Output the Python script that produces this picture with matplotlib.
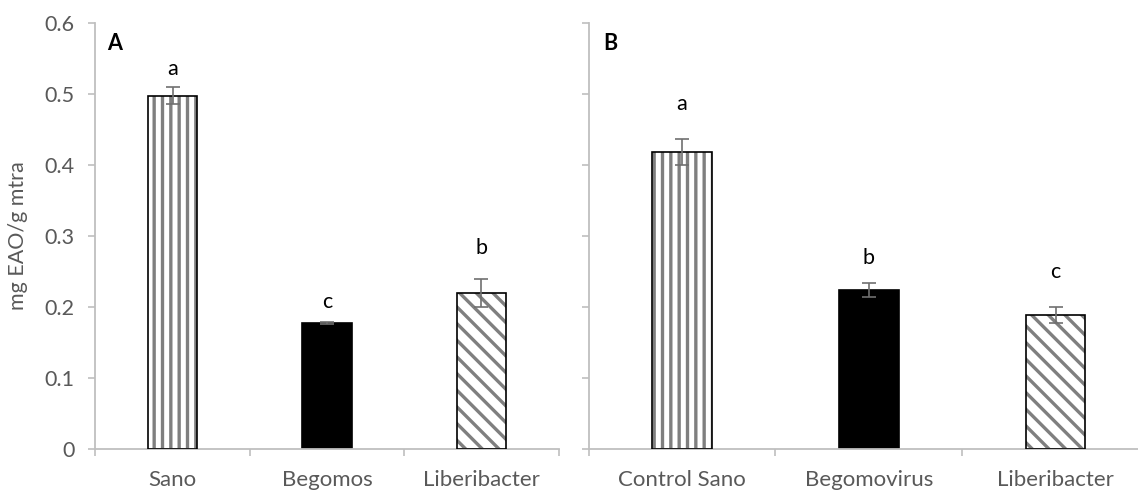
import matplotlib.pyplot as plt
import numpy as np

plt.rcParams['font.family'] = ['Lato', 'DejaVu Sans']
plt.rcParams['hatch.linewidth'] = 2.4

# Panel A data
cats_a = ['Sano', 'Begomos', 'Liberibacter']
vals_a = [0.497, 0.177, 0.219]
errs_a = [0.012, 0.002, 0.020]
letters_a = ['a', 'c', 'b']
letter_y_a = [0.535, 0.207, 0.283]

# Panel B data
cats_b = ['Control Sano', 'Begomovirus', 'Liberibacter']
vals_b = [0.418, 0.223, 0.188]
errs_b = [0.018, 0.010, 0.011]
letters_b = ['a', 'b', 'c']
letter_y_b = [0.485, 0.268, 0.249]

hatches = ['||', None, '\\\\']
fills = ['white', 'black', 'white']
axis_gray = '#BFBFBF'
text_gray = '#595959'

fig = plt.figure(figsize=(11.38, 4.91), dpi=100)
ax_a = fig.add_axes([0.0839, 0.0861, 0.4070, 0.8677])
ax_b = fig.add_axes([0.5172, 0.0861, 0.4924, 0.8677])


def draw_panel(ax, cats, vals, errs, letters, letter_y, tag, show_ylabels):
    x = np.arange(len(cats))
    w = 0.32
    for i in range(len(cats)):
        if hatches[i]:
            ax.bar(x[i], vals[i], w, color=fills[i], edgecolor='#7F7F7F',
                   hatch=hatches[i], linewidth=0, zorder=2)
            ax.bar(x[i], vals[i], w, fill=False, edgecolor='black',
                   linewidth=1.2, zorder=3)
        else:
            ax.bar(x[i], vals[i], w, color='black', edgecolor='black',
                   linewidth=1.2, zorder=2)
    ax.errorbar(x, vals, yerr=errs, fmt='none', ecolor='#6F6F6F',
                elinewidth=1.2, capsize=5, capthick=1.2, zorder=4)
    for i in range(len(cats)):
        ax.text(x[i], letter_y[i], letters[i], ha='center', va='center',
                fontsize=15.5, color='black')

    ax.set_xlim(-0.5, len(cats) - 0.5)
    ax.set_ylim(0, 0.6)
    ax.set_yticks(np.arange(0, 0.61, 0.1))
    if show_ylabels:
        ax.set_yticklabels(['0', '0.1', '0.2', '0.3', '0.4', '0.5', '0.6'])
    else:
        ax.set_yticklabels([])
    ax.set_xticks(x)
    ax.set_xticklabels(cats)
    ax.set_xticks(np.arange(-0.5, len(cats), 1.0), minor=True)
    ax.tick_params(axis='x', which='major', length=0, pad=15,
                   labelsize=16, labelcolor=text_gray)
    ax.tick_params(axis='x', which='minor', length=5, width=1.2,
                   color=axis_gray, direction='out')
    ax.tick_params(axis='y', length=5, width=1.2, color=axis_gray,
                   labelsize=15.5, labelcolor=text_gray, pad=10)
    for s in ['top', 'right']:
        ax.spines[s].set_visible(False)
    for s in ['left', 'bottom']:
        ax.spines[s].set_color(axis_gray)
        ax.spines[s].set_linewidth(1.3)
    ax.text(0.026, 0.975, tag, transform=ax.transAxes, fontsize=15.5,
            fontweight='bold', ha='left', va='top', color='black')


draw_panel(ax_a, cats_a, vals_a, errs_a, letters_a, letter_y_a, 'A', True)
draw_panel(ax_b, cats_b, vals_b, errs_b, letters_b, letter_y_b, 'B', False)

ax_a.set_ylabel('mg EAO/g mtra', fontsize=15.5, color=text_gray, labelpad=12)

fig.savefig('out.png', dpi=100, facecolor='white')
plt.close(fig)
